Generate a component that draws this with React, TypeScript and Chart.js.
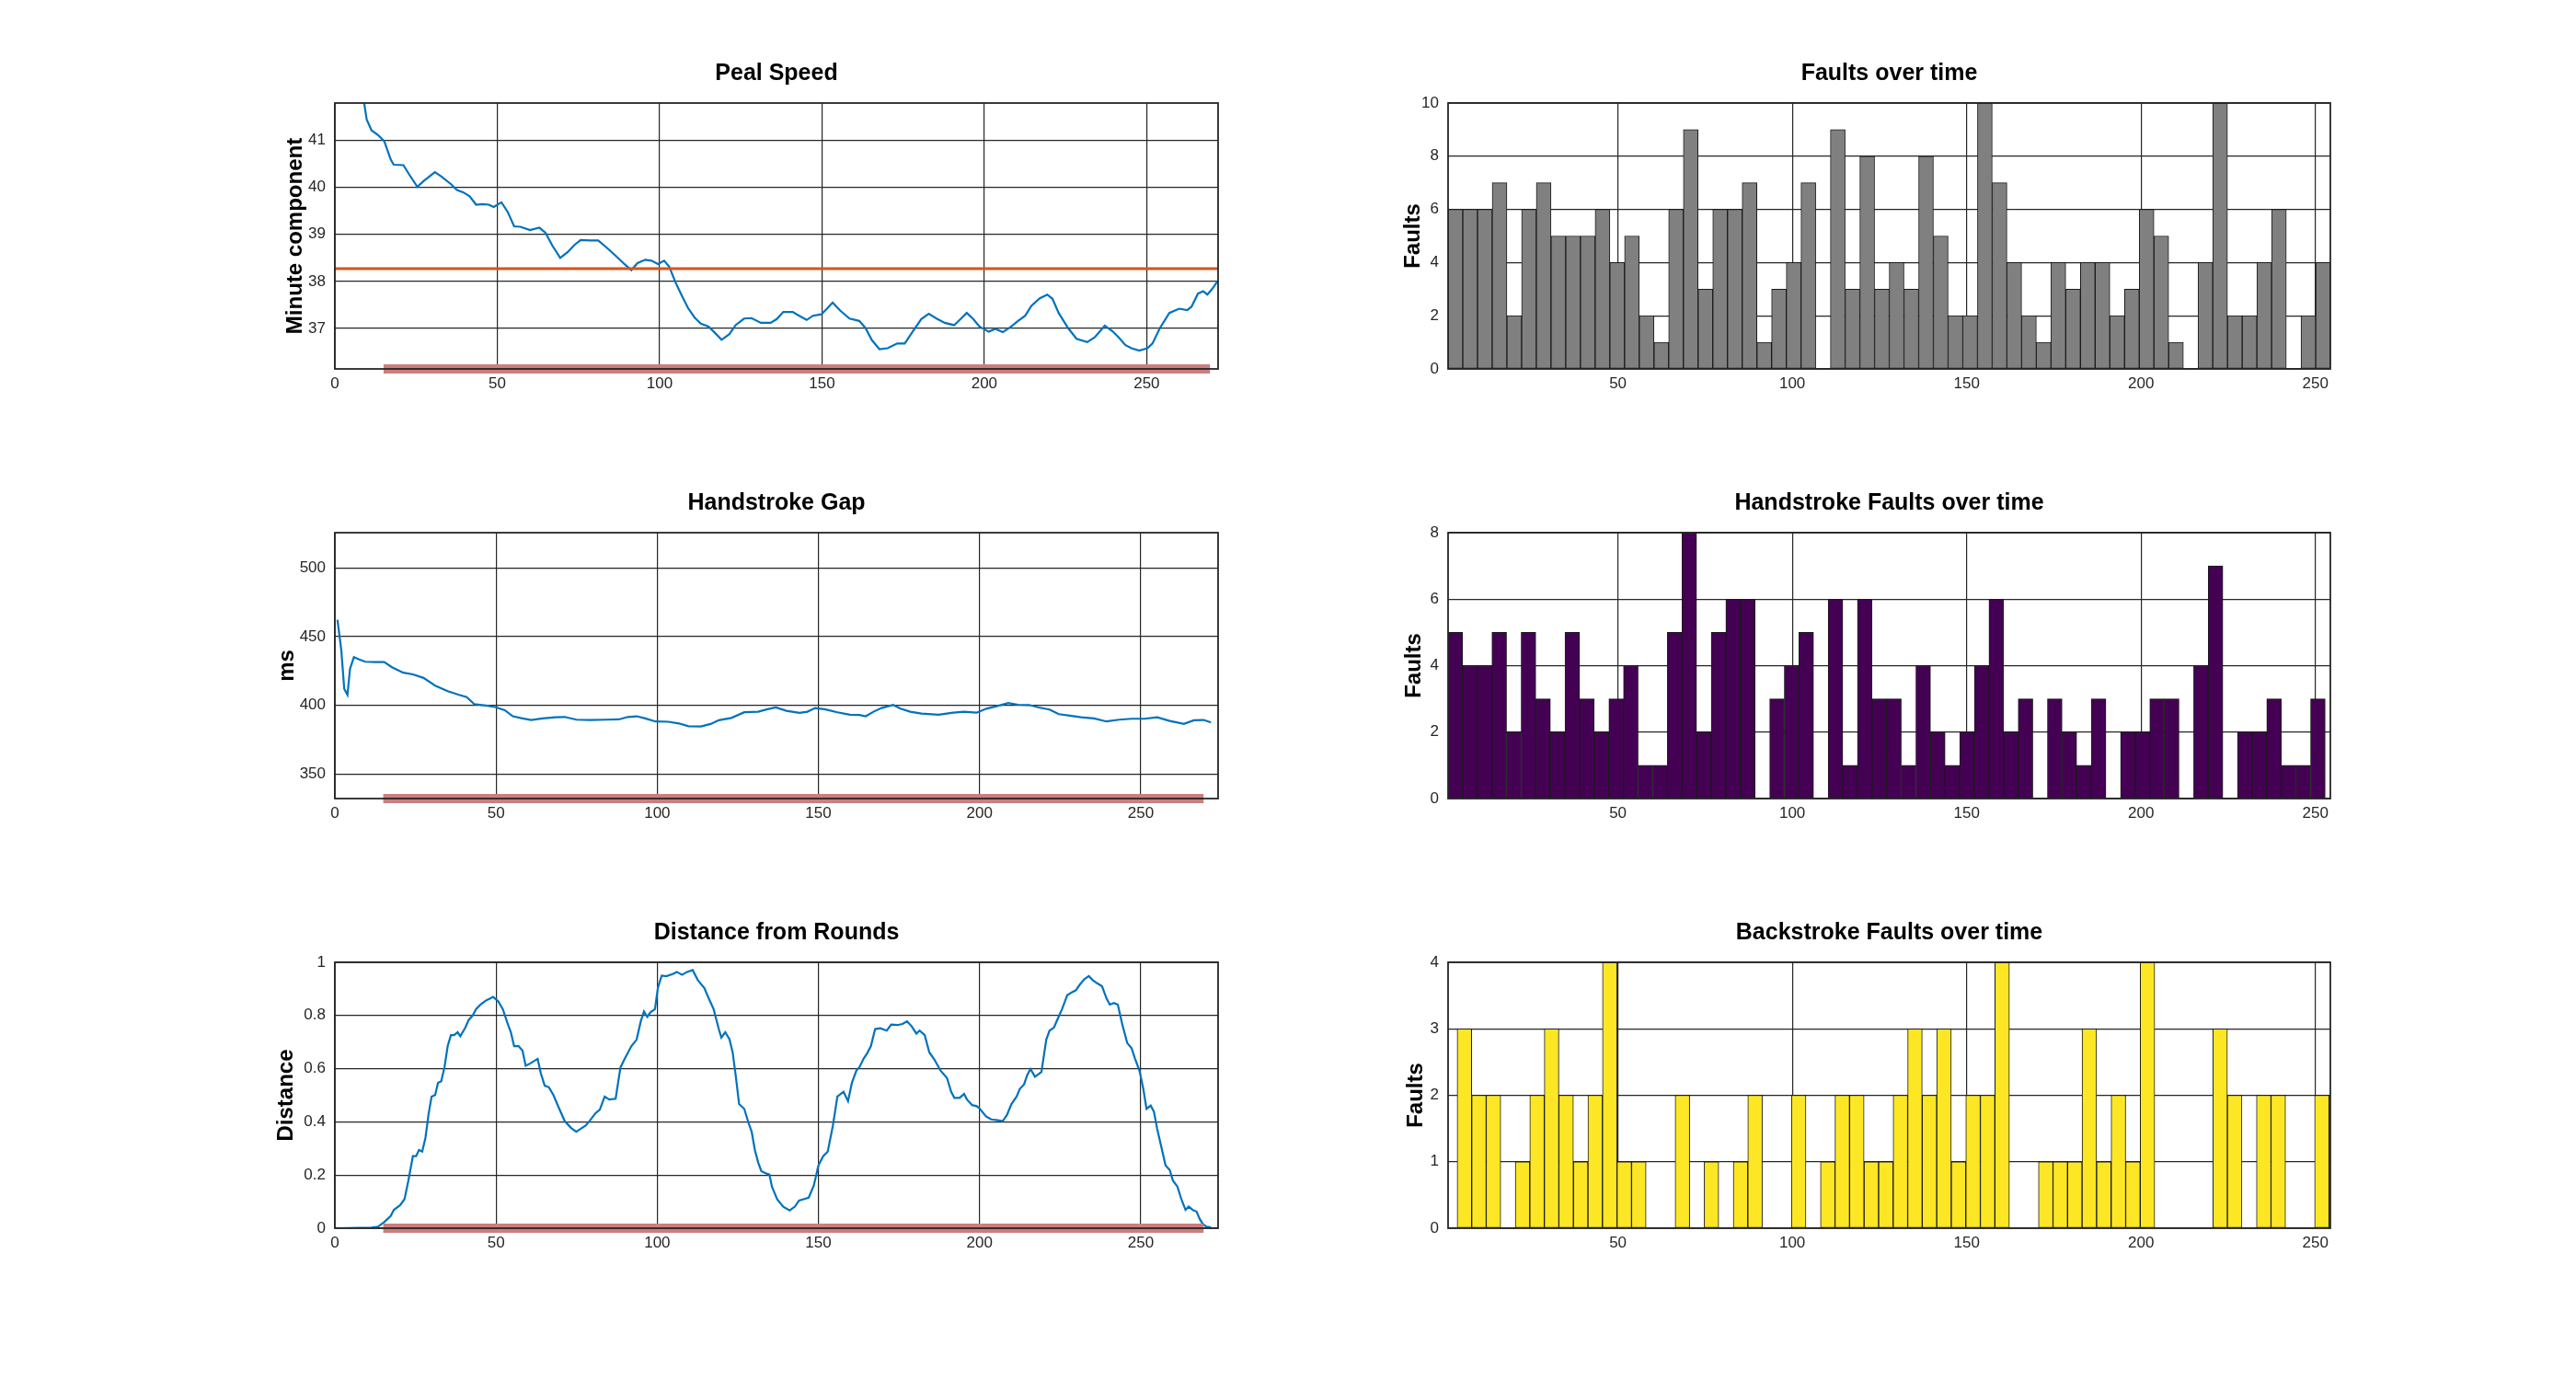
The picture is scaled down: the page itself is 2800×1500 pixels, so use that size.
import { useEffect, useRef } from "react"
import { Chart, registerables, type ChartConfiguration, type Plugin } from "chart.js"

Chart.register(...registerables)

const FONT = "'Liberation Sans', Arial, Helvetica, sans-serif"
const INK = "#262626"

// Peal speed: [strike, minutes]
const pealSpeed: [number, number][] = [
  [1, 44.0], [4, 43.1], [7, 42.3], [9, 41.8], [9.8, 41.44], [11.3, 41.21], [13.3, 41.11], [15.2, 40.98],
  [17.2, 40.59], [18.1, 40.48], [21.1, 40.47], [23, 40.26], [25.4, 40.01], [27.3, 40.13], [30.8, 40.32],
  [32.8, 40.23], [35.7, 40.07], [37.6, 39.94], [39.6, 39.89], [41.5, 39.81], [43.5, 39.63], [45.4, 39.64],
  [47.4, 39.63], [48.9, 39.58], [51.3, 39.68], [53.2, 39.48], [55.2, 39.17], [57.1, 39.16], [60.1, 39.09],
  [63, 39.14], [64.9, 39.03], [66.9, 38.77], [69.4, 38.5], [71.8, 38.63], [73.7, 38.77], [75.7, 38.88],
  [78.6, 38.87], [81.1, 38.87], [83.5, 38.73], [86.4, 38.55], [89.3, 38.36], [91.3, 38.24], [93.2, 38.39],
  [95.6, 38.46], [97.5, 38.44], [99.5, 38.37], [101.4, 38.44], [103, 38.31], [104.9, 37.98], [106.9, 37.69],
  [108.8, 37.43], [110.8, 37.23], [112.7, 37.1], [115.1, 37.04], [117, 36.91], [119.1, 36.76], [121.5, 36.88],
  [123.4, 37.07], [126, 37.21], [128.3, 37.22], [131.2, 37.12], [134.2, 37.12], [136.1, 37.2], [138.1, 37.35],
  [141, 37.35], [143, 37.27], [145.3, 37.18], [147.2, 37.27], [149.8, 37.3], [151.7, 37.43], [153.3, 37.55],
  [155.6, 37.38], [158.5, 37.21], [161.5, 37.16], [163.4, 37.01], [165.4, 36.75], [167.7, 36.56], [170.2, 36.58],
  [173.2, 36.68], [175.5, 36.68], [178, 36.94], [180.6, 37.2], [182.9, 37.31], [185.3, 37.21], [187.8, 37.12],
  [190.7, 37.07], [192.7, 37.2], [194.6, 37.33], [196.6, 37.2], [198.5, 37.04], [201.4, 36.93], [203.4, 36.99],
  [205.7, 36.92], [208.3, 37.04], [210.2, 37.15], [212.6, 37.27], [214.5, 37.48], [217.1, 37.64], [219.4, 37.72],
  [221, 37.63], [222.9, 37.33], [225.8, 37.01], [228.4, 36.78], [231.7, 36.71], [234, 36.81], [237.1, 37.06],
  [239.5, 36.94], [241.4, 36.81], [243.4, 36.65], [245.3, 36.58], [247.7, 36.53], [250.2, 36.58], [251.8, 36.68],
  [254.1, 37.01], [257, 37.33], [260, 37.42], [262.5, 37.39], [263.8, 37.46], [265.8, 37.74], [267.4, 37.79],
  [268.7, 37.72], [270.3, 37.85], [271.8, 38.0],
]
const pealMean = 38.27

// Handstroke gap: [strike, ms]
const handGap: [number, number][] = [
  [0.8, 462.3], [2, 440], [2.9, 412], [3.9, 407.6], [4.7, 426.6], [5.9, 435], [7.5, 433.3], [9.4, 431.7],
  [12.4, 431.5], [15.3, 431.5], [17.7, 427.7], [21.2, 423.7], [24.2, 422.5], [27.5, 419.9], [31.1, 414.3],
  [35, 410.3], [38.5, 407.6], [40.9, 406], [43.2, 400.9], [46.8, 399.8], [49.7, 398.7], [52.7, 396.4],
  [55.2, 392], [58.2, 390.4], [60.9, 389.3], [64.5, 390.4], [68.4, 391.3], [71.3, 391.5], [74.9, 389.5],
  [79.2, 389.3], [84.1, 389.5], [88.1, 389.7], [90.9, 391.5], [93.6, 392], [96.3, 390.4], [99.4, 388.2],
  [103.4, 388], [106.7, 386.8], [109.7, 384.8], [113.6, 384.6], [116.6, 386.4], [119.1, 389.1], [123, 390.8],
  [127, 394.9], [131.3, 395.3], [134.2, 397.1], [136.8, 398.4], [140.1, 396], [144.1, 394.4], [146.6, 395.3],
  [149, 398], [151.9, 397.1], [155.9, 394.9], [159.8, 393.1], [162.7, 392.9], [164.7, 392], [167.1, 395.3],
  [169.6, 398], [173.2, 400.2], [175.5, 397.5], [178.5, 395.3], [182, 394], [187.3, 393.1], [191.8, 394.6],
  [195.2, 395.3], [199.1, 394.6], [202.1, 397.5], [205, 399.1], [208.9, 401.6], [211.9, 400.4], [215.4, 400.2],
  [218.4, 398.4], [221.7, 396.9], [224.6, 393.5], [228, 392.4], [231.5, 391.3], [235.5, 390.4], [239.4, 388.2],
  [243.3, 389.5], [247.2, 390.2], [251.2, 390.2], [255.1, 391.3], [259, 388.6], [263.4, 386.4], [266.5, 389.1],
  [269.5, 389.3], [271.8, 387.5],
]

// Distance from rounds: [strike, distance]
const roundsDist: [number, number][] = [
  [0.8, 0], [11.4, 0.002], [13.4, 0.006], [15.3, 0.023], [17.3, 0.046], [18.3, 0.069], [20.2, 0.086],
  [21.6, 0.109], [22.8, 0.179], [24.2, 0.271], [25.2, 0.271], [26.1, 0.294], [27.1, 0.288], [28.1, 0.34],
  [29.1, 0.432], [30, 0.495], [31.1, 0.501], [32, 0.547], [33, 0.553], [34, 0.605], [35, 0.685], [36, 0.726],
  [37, 0.726], [38.1, 0.737], [38.9, 0.722], [40.5, 0.755], [41.5, 0.783], [42.8, 0.801], [43.8, 0.824],
  [45.2, 0.841], [46.8, 0.856], [48.2, 0.864], [49.1, 0.87], [50.7, 0.853], [52.1, 0.824], [53.7, 0.766],
  [54.6, 0.737], [55.6, 0.685], [57, 0.685], [58.2, 0.668], [59.2, 0.611], [60.5, 0.619], [62.9, 0.637],
  [63.9, 0.582], [65.1, 0.536], [66.4, 0.53], [67.8, 0.501], [69.4, 0.455], [71.3, 0.403], [73.3, 0.377],
  [74.9, 0.363], [76.3, 0.374], [77.8, 0.386], [79.2, 0.406], [80.8, 0.432], [82.2, 0.446], [83.7, 0.495],
  [85.1, 0.484], [87.1, 0.487], [88.6, 0.605], [90, 0.639], [92, 0.685], [93.6, 0.709], [94.9, 0.778],
  [95.9, 0.815], [96.9, 0.795], [97.9, 0.812], [99.3, 0.824], [100.2, 0.904], [101.4, 0.95], [102.8, 0.948],
  [104.8, 0.956], [106.1, 0.964], [107.7, 0.953], [109.3, 0.964], [111, 0.971], [112.6, 0.933], [114.6, 0.904],
  [116, 0.864], [117.5, 0.824], [119.1, 0.749], [119.9, 0.717], [121.1, 0.737], [122.4, 0.711], [123.4, 0.662],
  [124.4, 0.57], [125.4, 0.467], [127, 0.449], [128.3, 0.397], [129.3, 0.363], [130.3, 0.294], [131.3, 0.248],
  [132.3, 0.215], [133.6, 0.207], [134.8, 0.202], [135.6, 0.156], [137.2, 0.109], [139.1, 0.081], [141.1, 0.067],
  [142.7, 0.081], [144, 0.104], [145.4, 0.109], [147, 0.115], [148.6, 0.161], [150, 0.236], [151.5, 0.271],
  [152.9, 0.288], [154.5, 0.386], [155.9, 0.495], [157.8, 0.513], [159.2, 0.478], [160.4, 0.547], [161.8, 0.593],
  [162.7, 0.605], [164.1, 0.639], [165.1, 0.657], [166.3, 0.685], [167.6, 0.749], [169.2, 0.752], [171.2, 0.743],
  [172.6, 0.766], [174.5, 0.764], [176.1, 0.768], [177.5, 0.778], [178.9, 0.76], [180.4, 0.732], [181.4, 0.743],
  [183, 0.726], [184.4, 0.662], [186, 0.634], [187.9, 0.593], [189.9, 0.565], [191.2, 0.513], [192.2, 0.49],
  [193.8, 0.49], [195.2, 0.505], [196.1, 0.484], [197.7, 0.463], [199.1, 0.459], [200.1, 0.449], [202, 0.421],
  [203.6, 0.409], [205.6, 0.406], [207.2, 0.403], [208.5, 0.426], [209.9, 0.467], [211.5, 0.495], [212.5, 0.524],
  [213.8, 0.541], [214.8, 0.576], [215.8, 0.599], [217.2, 0.57], [219.2, 0.588], [220.7, 0.709], [221.7, 0.743],
  [223.1, 0.755], [224.3, 0.789], [225.6, 0.824], [227.2, 0.876], [228.6, 0.887], [229.9, 0.895], [231.1, 0.916],
  [232.5, 0.937], [233.9, 0.948], [235.1, 0.933], [236.4, 0.922], [238, 0.91], [239.4, 0.864], [240.4, 0.841],
  [241.7, 0.847], [242.9, 0.841], [244.3, 0.766], [245.8, 0.697], [247.2, 0.676], [248.2, 0.639], [249.6, 0.593],
  [250.8, 0.524], [251.8, 0.449], [253.1, 0.461], [254.1, 0.438], [255.1, 0.374], [256.5, 0.3], [257.7, 0.236],
  [259, 0.219], [260, 0.179], [261.4, 0.156], [262.6, 0.109], [263.9, 0.069], [264.9, 0.081], [266.3, 0.067],
  [267.3, 0.063], [268.3, 0.035], [269.3, 0.015], [270.4, 0.006], [271.8, 0.003],
]

// Analysis window marked under the line plots
const windowStart = 15
const windowEnd = 269.5

// Histogram counts, 60 bins each
const faultCounts = [
  6, 6, 6, 7, 2, 6, 7, 5, 5, 5, 6, 4, 5, 2, 1, 6, 9, 3, 6, 6, 7, 1, 3, 4, 7, 0, 9, 3, 8, 3,
  4, 3, 8, 5, 2, 2, 10, 7, 4, 2, 1, 4, 3, 4, 4, 2, 3, 6, 5, 1, 0, 4, 10, 2, 2, 4, 6, 0, 2, 4,
]
const handFaultCounts = [
  5, 4, 4, 5, 2, 5, 3, 2, 5, 3, 2, 3, 4, 1, 1, 5, 8, 2, 5, 6, 6, 0, 3, 4, 5, 0, 6, 1, 6, 3,
  3, 1, 4, 2, 1, 2, 4, 6, 2, 3, 0, 3, 2, 1, 3, 0, 2, 2, 3, 3, 0, 4, 7, 0, 2, 2, 3, 1, 1, 3,
]
const backFaultCounts = [
  3, 2, 2, 0, 1, 2, 3, 2, 1, 2, 4, 1, 1, 0, 0, 2, 0, 1, 0, 1, 2, 0, 0, 2, 0, 1, 2, 2, 1, 1,
  2, 3, 2, 3, 1, 2, 2, 4, 0, 0, 1, 1, 1, 3, 1, 2, 1, 4, 0, 0, 0, 0, 3, 2, 0, 2, 2, 0, 0, 2,
]
const faultBinStart = 1.3
const faultBinWidth = 4.217
const handBinStart = 1.3
const handBinWidth = 4.192
const backBinStart = 3.9
const backBinWidth = 4.1675

// layout of each panel's plot box (page pixels)
const Y_W = 100
const X_H = 40
const T_H = 47
const R_PAD = 40
const COL_X = [364, 1574]
const COL_W = [960, 959]
const ROW_Y = [112, 579, 1046]
const PLOT_H = 289

const frame: Plugin = {
  id: "frame",
  afterDatasetsDraw(chart) {
    const { ctx, chartArea: a } = chart
    ctx.save()
    ctx.strokeStyle = INK
    ctx.lineWidth = 1.8
    ctx.strokeRect(a.left, a.top, a.right - a.left, a.bottom - a.top)
    ctx.restore()
  },
}

const toPoints = (rows: [number, number][]) => rows.map(([x, y]) => ({ x, y }))
const toBins = (counts: number[], start: number, width: number) =>
  counts.map((c, i) => ({ x: start + (i + 0.5) * width, y: c }))

interface PanelProps {
  col: number
  row: number
  kind: "line" | "bar"
  title: string
  yLabel: string
  yLabelGap: number
  xMin: number
  xMax: number
  yMin: number
  yMax: number
  yStep: number
  datasets: any[]
  yFormat?: (v: number) => string
}

function Panel(p: PanelProps) {
  const canvasRef = useRef<HTMLCanvasElement>(null)
  const chartRef = useRef<Chart | null>(null)
  const w = Y_W + COL_W[p.col] + R_PAD
  const h = T_H + PLOT_H + X_H

  useEffect(() => {
    if (!canvasRef.current) return
    if (chartRef.current) chartRef.current.destroy()

    const grid = { color: INK, lineWidth: 1.2, drawTicks: false, offset: false }
    const tickFont = { family: FONT, size: 17 }

    const config: ChartConfiguration = {
      type: p.kind,
      data: { datasets: p.datasets },
      options: {
        responsive: false,
        animation: false,
        events: [],
        layout: { padding: { left: 0, top: 0, right: R_PAD, bottom: 0 } },
        plugins: {
          legend: { display: false },
          tooltip: { enabled: false },
          title: {
            display: true,
            fullSize: false, // centre over the plot box, not the canvas
            text: p.title,
            color: "#000",
            font: { family: FONT, size: 25, weight: "bold", lineHeight: 1.2 },
            padding: { top: 0, bottom: T_H - 30 },
          },
        },
        scales: {
          x: {
            type: "linear",
            min: p.xMin,
            max: p.xMax,
            offset: false,
            grid,
            border: { display: false },
            ticks: {
              stepSize: 50,
              includeBounds: false,
              padding: 6,
              color: INK,
              font: tickFont,
              maxRotation: 0,
              autoSkip: false,
            },
            afterFit: (s: any) => {
              s.height = X_H
            },
          },
          y: {
            type: "linear",
            min: p.yMin,
            max: p.yMax,
            grid,
            border: { display: false },
            ticks: {
              stepSize: p.yStep,
              includeBounds: false,
              padding: 10,
              color: INK,
              font: tickFont,
              callback: (v: any) => (p.yFormat ? p.yFormat(Number(v)) : String(v)),
            },
            title: {
              display: true,
              text: p.yLabel,
              color: "#000",
              font: { family: FONT, size: 24, weight: "bold", lineHeight: 1.2 },
              padding: { top: Y_W - p.yLabelGap - 14.4, bottom: 0 },
            },
            afterFit: (s: any) => {
              s.width = Y_W
            },
          },
        },
      } as any,
      plugins: [frame],
    }

    chartRef.current = new Chart(canvasRef.current, config)
    return () => {
      if (chartRef.current) {
        chartRef.current.destroy()
        chartRef.current = null
      }
    }
  }, [])

  return (
    <canvas
      ref={canvasRef}
      width={w}
      height={h}
      style={{
        position: "absolute",
        left: COL_X[p.col] - Y_W,
        top: ROW_Y[p.row] - T_H,
        width: w,
        height: h,
      }}
    />
  )
}

const lineStyle = { borderColor: "#0072BD", borderWidth: 2.2, pointRadius: 0, tension: 0, fill: false }

const windowBar = (yMin: number) => ({
  data: [
    { x: windowStart, y: yMin },
    { x: windowEnd, y: yMin },
  ],
  borderColor: "#cc7e7e",
  borderWidth: 10,
  borderCapStyle: "butt",
  pointRadius: 0,
  clip: false,
})

const barStyle = (color: string) => ({
  backgroundColor: color,
  borderColor: "#1a1a1a",
  borderWidth: 1,
  borderSkipped: false,
  barPercentage: 1,
  categoryPercentage: 1,
  grouped: false,
})

const PEAL_X_MAX = 272
const PEAL_Y = [36.14, 41.79]
const HAND_Y = [332.1, 525.6]

export default function App() {
  return (
    <div style={{ position: "absolute", left: 0, top: 0, width: 2800, height: 1500, background: "#fff" }}>
      <Panel
        col={0}
        row={0}
        kind="line"
        title="Peal Speed"
        yLabel="Minute component"
        yLabelGap={43}
        xMin={0}
        xMax={PEAL_X_MAX}
        yMin={PEAL_Y[0]}
        yMax={PEAL_Y[1]}
        yStep={1}
        datasets={[
          windowBar(PEAL_Y[0]),
          {
            data: [
              { x: 0, y: pealMean },
              { x: PEAL_X_MAX, y: pealMean },
            ],
            borderColor: "#D95319",
            borderWidth: 3,
            pointRadius: 0,
          },
          { data: toPoints(pealSpeed), ...lineStyle },
        ]}
      />
      <Panel
        col={0}
        row={1}
        kind="line"
        title="Handstroke Gap"
        yLabel="ms"
        yLabelGap={52}
        xMin={0}
        xMax={274}
        yMin={HAND_Y[0]}
        yMax={HAND_Y[1]}
        yStep={50}
        datasets={[windowBar(HAND_Y[0]), { data: toPoints(handGap), ...lineStyle }]}
      />
      <Panel
        col={0}
        row={2}
        kind="line"
        title="Distance from Rounds"
        yLabel="Distance"
        yLabelGap={53}
        xMin={0}
        xMax={274}
        yMin={0}
        yMax={1}
        yStep={0.2}
        yFormat={(v) => String(Math.round(v * 10) / 10)}
        datasets={[windowBar(0), { data: toPoints(roundsDist), ...lineStyle }]}
      />
      <Panel
        col={1}
        row={0}
        kind="bar"
        title="Faults over time"
        yLabel="Faults"
        yLabelGap={38}
        xMin={1.3}
        xMax={254.3}
        yMin={0}
        yMax={10}
        yStep={2}
        datasets={[{ data: toBins(faultCounts, faultBinStart, faultBinWidth), ...barStyle("#808080") }]}
      />
      <Panel
        col={1}
        row={1}
        kind="bar"
        title="Handstroke Faults over time"
        yLabel="Faults"
        yLabelGap={37}
        xMin={1.3}
        xMax={254.3}
        yMin={0}
        yMax={8}
        yStep={2}
        datasets={[{ data: toBins(handFaultCounts, handBinStart, handBinWidth), ...barStyle("#440154") }]}
      />
      <Panel
        col={1}
        row={2}
        kind="bar"
        title="Backstroke Faults over time"
        yLabel="Faults"
        yLabelGap={35}
        xMin={1.3}
        xMax={254.3}
        yMin={0}
        yMax={4}
        yStep={1}
        datasets={[{ data: toBins(backFaultCounts, backBinStart, backBinWidth), ...barStyle("#FDE725") }]}
      />
    </div>
  )
}
